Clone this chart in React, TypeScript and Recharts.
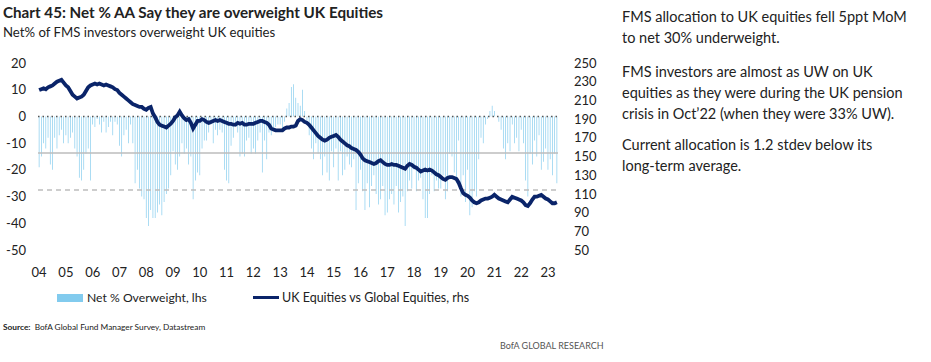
import { ComposedChart, Bar, Line, XAxis, YAxis, ReferenceLine } from "recharts";

const YEARS = [
  "04", "05", "06", "07", "08", "09", "10", "11", "12", "13",
  "14", "15", "16", "17", "18", "19", "20", "21", "22", "23",
];

// Net % of FMS investors overweight UK equities (monthly, lhs)
const NET_OW: number[][] = [
  [-19, -15, -10, -12, -8, -18, -20, -8, -12, -7, -5, -10],
  [-7, -10, -8, -6, -12, -15, -23, -24, -20, -14, -12, -24],
  [-3, -4, -1, -3, -6, -2, -6, -4, -2, -7, -2, -3],
  [-11, -15, -7, -5, -10, -3, -10, -25, -20, -27, -30, -31],
  [-38, -41, -35, -38, -38, -36, -33, -37, -32, -29, -27, -22],
  [-13, -18, -20, -15, -10, -14, -12, -18, -15, -31, -24, -21],
  [-22, -12, -9, -9, -6, -3, -10, -5, -7, -5, -6, -20],
  [-24, -25, -11, -8, -4, -6, -15, -14, -15, -9, -8, -14],
  [-12, -14, -9, -6, -21, -9, -16, -6, -7, -5, -4, -3],
  [-3, -5, -2, 3, 5, 11, 12, 7, 5, 4, 10, 2],
  [-3, -7, -12, -16, -10, -14, -16, -22, -15, -21, -24, -13],
  [-19, -12, -24, -13, -22, -20, -15, -18, -19, -16, -35, -25],
  [-20, -28, -35, -25, -34, -26, -22, -29, -33, -31, -26, -37],
  [-36, -31, -29, -33, -26, -36, -32, -30, -41, -28, -24, -27],
  [-20, -28, -24, -23, -31, -38, -38, -29, -22, -28, -24, -27],
  [-27, -22, -31, -28, -14, -15, -21, -25, -9, -30, -22, -32],
  [-20, -37, -34, -28, -30, -16, -8, -10, -3, -1, 2, 4],
  [2, 0, -2, -5, -12, -16, -10, -13, -3, -10, -8, -13],
  [-5, -10, -24, -30, -14, -18, -9, -15, -7, -20, -17, -12],
  [-20, -16, -22, -14, -25],
];

// UK equities vs global equities relative index (monthly, rhs)
const UK_VS_GLOBAL: number[][] = [
  [221, 222, 223, 222, 224, 225, 226, 228, 230, 231, 232, 229],
  [226, 224, 220, 216, 214, 212, 213, 214, 216, 220, 224, 226],
  [227, 228, 227, 228, 227, 226, 227, 226, 225, 224, 222, 221],
  [218, 216, 214, 212, 210, 208, 206, 205, 204, 203, 203, 201],
  [200, 202, 203, 196, 192, 187, 184, 183, 182, 181, 183, 185],
  [188, 192, 194, 198, 194, 191, 189, 190, 186, 180, 184, 188],
  [188, 190, 189, 187, 186, 187, 188, 189, 188, 189, 188, 187],
  [186, 185, 185, 184, 184, 186, 185, 186, 184, 184, 185, 185],
  [185, 186, 187, 188, 188, 187, 186, 184, 180, 179, 178, 178],
  [178, 178, 180, 181, 181, 182, 182, 183, 188, 190, 189, 187],
  [186, 184, 181, 178, 175, 172, 170, 168, 167, 168, 170, 171],
  [172, 173, 171, 168, 166, 164, 162, 161, 159, 158, 157, 155],
  [152, 148, 146, 145, 144, 143, 142, 143, 145, 146, 144, 142],
  [141, 141, 142, 141, 141, 140, 139, 138, 137, 140, 142, 141],
  [139, 138, 136, 134, 135, 136, 135, 136, 135, 133, 131, 130],
  [128, 126, 125, 127, 128, 128, 127, 126, 122, 116, 111, 109],
  [108, 106, 103, 101, 100, 101, 103, 104, 105, 105, 106, 107],
  [109, 107, 105, 104, 103, 102, 101, 104, 107, 106, 105, 104],
  [103, 101, 98, 97, 100, 104, 107, 107, 108, 109, 107, 105],
  [104, 102, 100, 100, 101],
];

const LEFT_TICKS = [-50, -40, -30, -20, -10, 0, 10, 20];
const RIGHT_TICKS = [50, 70, 90, 110, 130, 150, 170, 190, 210, 230, 250];
const LONG_TERM_AVG = -13.7;
const MINUS_ONE_STDEV = -27.5;

const data = YEARS.flatMap((yy, yi) =>
  NET_OW[yi].map((v, mi) => ({
    month: `${yy}-${mi + 1}`,
    netOw: v,
    ukVsGlobal: UK_VS_GLOBAL[yi][mi],
  }))
);

const FONT = "Lato, 'Open Sans', sans-serif";
const BAR_COLOR = "#82CBEE";
const LINE_COLOR = "#0A2469";
const TEXT = "#222";

export default function App() {
  return (
    <div
      style={{
        position: "absolute",
        left: 0,
        top: 0,
        width: 931,
        height: 362,
        background: "#fff",
        fontFamily: FONT,
        color: TEXT,
        overflow: "hidden",
      }}
    >
      <div style={{ position: "absolute", left: 3, top: 3, fontSize: 15.2, fontWeight: 700, whiteSpace: "nowrap" }}>
        Chart 45: Net % AA Say they are overweight UK Equities
      </div>
      <div style={{ position: "absolute", left: 3, top: 24, fontSize: 13.2, whiteSpace: "nowrap" }}>
        Net% of FMS investors overweight UK equities
      </div>

      <div style={{ position: "absolute", left: 0, top: 0 }}>
        <ComposedChart
          width={620}
          height={285}
          data={data}
          margin={{ top: 63, right: 22, bottom: 5, left: 0 }}
          barCategoryGap="35%"
        >
          <XAxis
            dataKey="month"
            interval={11}
            tickFormatter={(v: string) => String(v).split("-")[0]}
            axisLine={false}
            tickLine={false}
            tickMargin={12}
            height={30}
            tick={{ fontSize: 13, fill: TEXT, fontFamily: FONT }}
          />
          <YAxis
            yAxisId="left"
            domain={[-50, 20]}
            ticks={LEFT_TICKS}
            interval={0}
            axisLine={false}
            tickLine={false}
            width={38}
            tickMargin={6}
            tick={{ fontSize: 13, fill: TEXT, fontFamily: FONT }}
          />
          <YAxis
            yAxisId="right"
            orientation="right"
            domain={[50, 250]}
            ticks={RIGHT_TICKS}
            interval={0}
            axisLine={false}
            tickLine={false}
            width={40}
            tickMargin={10}
            tick={{ fontSize: 13, fill: TEXT, fontFamily: FONT, textAnchor: "start" }}
          />
          <ReferenceLine yAxisId="left" y={LONG_TERM_AVG} stroke="#BDBDBD" strokeWidth={1.5} />
          <ReferenceLine yAxisId="left" y={MINUS_ONE_STDEV} stroke="#BDBDBD" strokeWidth={1.5} strokeDasharray="5 4" />
          <Bar yAxisId="left" dataKey="netOw" fill={BAR_COLOR} isAnimationActive={false} />
          <ReferenceLine yAxisId="left" y={0} stroke="#555" strokeWidth={1.5} strokeDasharray="1.5 3" />
          <Line
            yAxisId="right"
            dataKey="ukVsGlobal"
            stroke={LINE_COLOR}
            strokeWidth={3.8}
            dot={false}
            isAnimationActive={false}
          />
        </ComposedChart>
      </div>

      <div style={{ position: "absolute", left: 57, top: 290, display: "flex", alignItems: "center", fontSize: 12.2, whiteSpace: "nowrap" }}>
        <span style={{ display: "inline-block", width: 26, height: 8, background: BAR_COLOR, marginRight: 4 }} />
        Net % Overweight, lhs
      </div>
      <div style={{ position: "absolute", left: 253, top: 290, display: "flex", alignItems: "center", fontSize: 12.5, whiteSpace: "nowrap" }}>
        <span style={{ display: "inline-block", width: 26, height: 3, background: LINE_COLOR, marginRight: 3 }} />
        UK Equities vs Global Equities, rhs
      </div>

      <div style={{ position: "absolute", left: 3, top: 322, fontSize: 8.3, whiteSpace: "nowrap" }}>
        <b>Source:</b>&nbsp; BofA Global Fund Manager Survey, Datastream
      </div>
      <div style={{ position: "absolute", left: 500, top: 340, fontSize: 9, color: "#555", whiteSpace: "nowrap" }}>
        BofA GLOBAL RESEARCH
      </div>

      <div style={{ position: "absolute", left: 622, top: 6, width: 298, fontSize: 14.5, lineHeight: "21px" }}>
        <p style={{ margin: "0 0 13px 0" }}>FMS allocation to UK equities fell 5ppt MoM to net 30% underweight.</p>
        <p style={{ margin: "0 0 10px 0" }}>
          FMS investors are almost as UW on UK equities as they were during the UK pension crisis in Oct’22 (when they were 33% UW).
        </p>
        <p style={{ margin: 0 }}>
          Current allocation is 1.2 stdev below its <span style={{ whiteSpace: "nowrap" }}>long-term</span> average.
        </p>
      </div>
    </div>
  );
}
